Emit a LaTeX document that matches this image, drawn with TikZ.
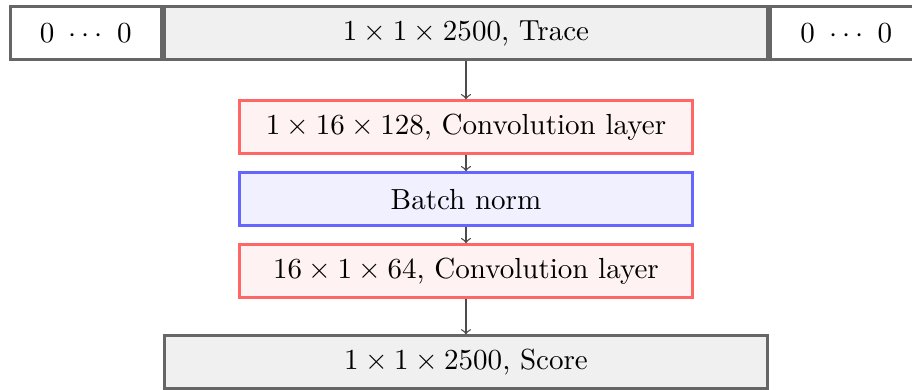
\documentclass[11pt,tikz,border=0pt]{standalone}
\usetikzlibrary{positioning}
\begin{document}
\begin{tikzpicture}[
    every node/.style={minimum height=0.7cm, line width=1.1pt},
    graybox/.style={draw=black!60, fill=black!6, minimum width=8cm},
    zerobox/.style={draw=black!60, fill=white, minimum width=2cm},
    convbox/.style={draw=red!60, fill=red!5, minimum width=6cm},
    normbox/.style={draw=blue!60, fill=blue!6, minimum width=6cm},
    flow/.style={->, black!70, line width=0.5pt}
  ]
  \useasboundingbox (-6.175,0.437) rectangle (5.91,-4.73);

  % input: trace padded with zeros on both sides
  \node[graybox] (trace) at (0,0) {$1\times1\times2500$, Trace};
  \node[zerobox, left=0pt of trace] (padl) {0 \,$\cdotp\cdotp\cdotp$\, 0};
  \node[zerobox, right=0pt of trace] (padr) {0 \,$\cdotp\cdotp\cdotp$\, 0};

  % network layers
  \node[convbox, below=0.51cm of trace] (conv1) {$1\times16\times128$, Convolution layer};
  \node[normbox, below=0.215cm of conv1] (bnorm) {Batch norm};
  \node[convbox, below=0.215cm of bnorm] (conv2) {$16\times1\times64$, Convolution layer};

  % output
  \node[graybox, below=0.47cm of conv2] (score) {$1\times1\times2500$, Score};

  \draw[flow] (trace) -- (conv1);
  \draw[flow] (conv1) -- (bnorm);
  \draw[flow] (bnorm) -- (conv2);
  \draw[flow] (conv2) -- (score);
\end{tikzpicture}
\end{document}
